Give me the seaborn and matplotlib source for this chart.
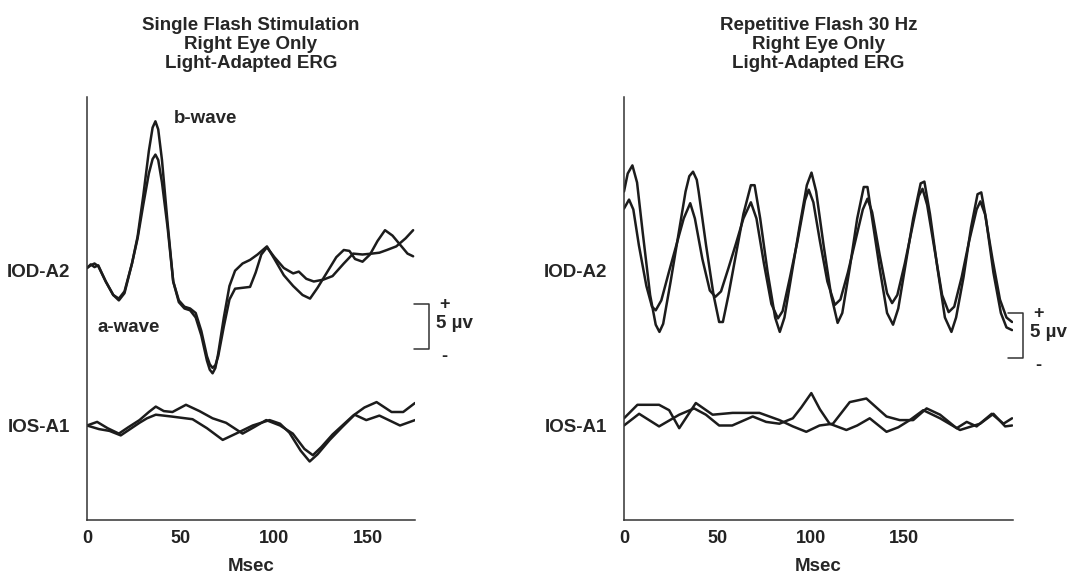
import pandas as pd
import matplotlib.pyplot as plt
import seaborn as sns

# =========================
# Settings
# =========================
sns.set_style("white")
plt.rcParams['font.family'] = ['Liberation Sans', 'DejaVu Sans']
plt.rcParams['font.weight'] = 'bold'

LINE_COLOR = "#1c1c1c"
IOD_OFFSET = 28.0   # baseline of the IOD-A2 channel (uV on the plot scale)
IOS_OFFSET = 10.5   # baseline of the IOS-A1 channel
SCALE_UV = 5

# =========================
# Data: single flash (left panel), values in uV relative to baseline
# =========================
single_t_a = [0, 2, 4, 6, 10, 14, 17, 20, 24, 27, 30, 33, 35, 36.5, 38, 40, 43, 46, 49, 52, 55,
              58, 61, 64, 65.5, 67, 68.5, 70, 73, 76, 79, 83, 87, 91, 96, 100, 105, 110, 115,
              119, 123, 128, 133, 137, 140, 143, 147, 151, 155, 159, 163, 167, 171, 174]
single_iod_a = [0.0, 0.4, 0.1, 0.3, -1.5, -3.0, -3.6, -2.8, 0.5, 3.5, 8.0, 13.0, 15.6, 16.3, 15.4,
                12.0, 5.0, -1.5, -3.8, -4.5, -4.7, -5.5, -7.5, -10.3, -11.3, -11.7, -11.1, -9.5,
                -5.5, -2.0, -0.3, 0.5, 0.9, 1.5, 2.4, 1.0, -0.8, -2.0, -3.0, -3.4, -2.2, -0.5,
                1.2, 2.0, 1.9, 1.0, 0.7, 1.5, 3.0, 4.2, 3.6, 2.6, 1.6, 1.3]

single_t_b = [0, 2, 4, 6, 10, 14, 17, 20, 24, 27, 30, 33, 35, 36.5, 38, 40, 43, 46, 49, 52, 55,
              58, 61, 64, 65.5, 67, 68.5, 70, 73, 76, 79, 83, 87, 90, 93, 96, 100, 105, 110, 113,
              117, 121, 126, 131, 137, 142, 147, 152, 156, 160, 165, 170, 174]
single_iod_b = [0.0, 0.3, 0.5, 0.2, -1.5, -3.0, -3.4, -2.6, 0.5, 3.3, 7.0, 10.5, 12.1, 12.6,
                12.0, 9.5, 4.5, -1.5, -3.6, -4.3, -4.5, -5.0, -7.0, -9.8, -10.7, -11.1, -10.8,
                -9.8, -6.5, -3.5, -2.3, -2.2, -2.1, -0.5, 1.5, 2.3, 1.2, 0.0, -0.6, -0.4, -1.2,
                -1.5, -1.3, -0.9, 0.5, 1.6, 1.5, 1.6, 1.7, 2.0, 2.4, 3.3, 4.2]

single_t_c = [0, 5.4, 11, 17, 22, 28, 33, 36.7, 41, 45.6, 52.8, 60, 67, 74.2, 83, 89, 95.6, 103,
              109.8, 116, 120.5, 125, 131, 142, 148, 154.5, 162.5, 168.7, 175]
single_ios_c = [0.0, 0.4, -0.3, -0.9, -0.2, 0.6, 1.5, 2.1, 1.6, 1.5, 2.3, 1.6, 0.8, 0.3, -0.9,
                -0.2, 0.6, 0.0, -0.9, -2.6, -3.3, -2.4, -1.0, 1.1, 2.0, 2.6, 1.5, 1.5, 2.5]

single_t_d = [0, 6.4, 12, 18, 23, 28, 32, 36.7, 45, 56.3, 64, 72.4, 79.5, 88.4, 97.4, 103, 108,
              114, 118.8, 123, 129.5, 136, 142.8, 149, 156, 161, 167, 175]
single_ios_d = [0.0, -0.4, -0.6, -1.1, -0.4, 0.3, 0.8, 1.2, 1.0, 0.7, -0.3, -1.6, -0.9, 0.0, 0.6,
                0.2, -0.8, -2.8, -4.0, -3.2, -1.6, -0.2, 1.2, 0.6, 1.1, 0.6, 0.0, 0.6]

# =========================
# Data: repetitive flash 30 Hz (right panel)
# =========================
rep_t_e = [0, 2, 4.5, 7, 10, 14, 17, 19, 21, 25, 29, 33, 35, 37, 39, 40, 44, 48, 51, 53, 56, 60,
           64, 68, 70, 73, 77, 81, 83.5, 86, 90, 94, 98, 100.5, 103, 107, 111, 114.5, 117, 121,
           125, 128.5, 130.5, 133, 137, 141, 144.2, 147, 151, 155, 159, 161, 164, 168, 172,
           175.5, 178, 182, 186, 189.5, 191.5, 194, 198, 202, 205, 208]
rep_iod_e = [8.5, 10.5, 11.4, 9.5, 4.0, -3.0, -6.3, -7.1, -6.2, -1.5, 3.5, 8.5, 10.2, 10.7, 9.8,
             8.5, 2.5, -3.0, -6.0, -6.0, -3.0, 1.5, 6.0, 9.2, 9.2, 5.5, -0.5, -5.5, -7.1, -5.5,
             -0.5, 4.5, 9.2, 10.6, 8.5, 2.5, -3.0, -6.1, -5.0, 0.0, 5.5, 9.0, 9.0, 5.5, 0.0,
             -5.0, -6.3, -4.5, 0.5, 5.5, 9.4, 9.6, 6.0, 0.0, -5.5, -7.1, -5.5, -1.0, 4.5, 8.2,
             8.4, 5.5, -0.5, -5.0, -6.6, -6.9]

rep_t_f = [0, 2.7, 5, 8, 12, 15, 17, 20, 24, 28, 32, 35.5, 38, 42, 46, 49, 52, 56, 60, 64, 68,
           71, 75, 79, 82.5, 85, 89, 93, 97, 99, 101.5, 105, 109, 113, 116, 120, 124, 128,
           130.5, 133, 137, 141, 143.7, 146.5, 150.5, 154.5, 158, 160, 162.5, 166.5, 170.5, 174,
           177, 181, 185, 189, 191, 193.5, 197.5, 201.5, 205, 208]
rep_iod_f = [6.6, 7.6, 6.5, 2.5, -2.0, -4.3, -4.7, -3.6, -0.5, 2.5, 5.5, 7.2, 5.5, 1.0, -2.5,
             -3.2, -2.6, 0.0, 2.7, 5.5, 7.3, 5.5, 0.5, -4.0, -5.6, -4.8, -1.0, 3.0, 7.5, 8.7,
             7.3, 3.0, -1.5, -4.1, -3.5, -0.5, 3.0, 6.5, 7.7, 6.2, 1.5, -2.8, -3.9, -3.0, 0.5,
             4.5, 8.0, 8.8, 7.0, 2.0, -3.0, -4.9, -4.3, -1.0, 3.0, 6.5, 7.4, 6.0, 1.0, -3.5,
             -5.5, -6.0]

rep_t_g = [0, 8.1, 18.8, 29.6, 37.6, 43.9, 51, 58, 69, 76.2, 83.3, 90.5, 95, 100.4, 105, 110.2,
           119.2, 125, 131.7, 140.7, 147, 153.2, 160.4, 169.4, 180.1, 190.9, 198, 204.3, 208]
rep_ios_g = [0.0, 1.3, -0.1, 1.2, 1.9, 1.2, 0.0, 0.0, 1.0, 0.4, 0.2, 0.8, 2.0, 3.6, 1.8, 0.2,
             -0.5, 0.0, 0.8, -0.7, -0.2, 0.6, 1.7, 0.8, -0.5, 0.2, 1.3, -0.1, 0.0]

rep_t_h = [0, 7.2, 18.8, 24.2, 29.6, 38.5, 47.5, 58.2, 72.6, 83.3, 90.5, 97.7, 104.8, 112, 121,
           129.9, 140.7, 147.8, 155, 162.2, 169.4, 178.3, 183.7, 189, 197.1, 203.4, 208]
rep_ios_h = [0.8, 2.3, 2.3, 1.7, -0.3, 2.5, 1.2, 1.4, 1.4, 0.6, -0.1, -0.7, 0.0, 0.2, 2.6, 3.0,
             1.0, 0.6, 0.6, 1.9, 1.2, -0.3, 0.4, -0.1, 1.3, 0.2, 0.8]

# =========================
# Figure
# =========================
W, H = 1068, 574
fig = plt.figure(figsize=(W / 100, H / 100), dpi=100)
ax1 = fig.add_axes([87 / W, 1 - 520 / H, (415 - 87) / W, (520 - 97) / H])
ax2 = fig.add_axes([624 / W, 1 - 520 / H, (1013 - 624) / W, (520 - 97) / H])


def draw_trace(ax, t, v, offset):
    df = pd.DataFrame({'t': t, 'v': [x + offset for x in v]})
    sns.lineplot(data=df, x='t', y='v', ax=ax, color=LINE_COLOR, lw=1.8,
                 sort=False, estimator=None)


draw_trace(ax1, single_t_a, single_iod_a, IOD_OFFSET)
draw_trace(ax1, single_t_b, single_iod_b, IOD_OFFSET)
draw_trace(ax1, single_t_c, single_ios_c, IOS_OFFSET)
draw_trace(ax1, single_t_d, single_ios_d, IOS_OFFSET)

draw_trace(ax2, rep_t_e, rep_iod_e, IOD_OFFSET)
draw_trace(ax2, rep_t_f, rep_iod_f, IOD_OFFSET)
draw_trace(ax2, rep_t_g, rep_ios_g, IOS_OFFSET)
draw_trace(ax2, rep_t_h, rep_ios_h, IOS_OFFSET)

titles = ["Single Flash Stimulation\nRight Eye Only\nLight-Adapted ERG",
          "Repetitive Flash 30 Hz\nRight Eye Only\nLight-Adapted ERG"]
xmax = [175, 208.5]
tick_lists = [list(range(0, 176, 25)), list(range(0, 201, 25))]
bar_x = [182.5, 214]
bar_y0 = [19.0, 18.0]

for ax, title, xm, ticks, bx, by in zip([ax1, ax2], titles, xmax, tick_lists, bar_x, bar_y0):
    ax.set_xlim(0, xm)
    ax.set_ylim(0, 47)
    sns.despine(ax=ax)
    for side in ['left', 'bottom']:
        ax.spines[side].set_color('#333333')
        ax.spines[side].set_linewidth(1.1)
    ax.set_yticks([])
    ax.set_ylabel('')
    ax.set_xticks(ticks)
    ax.set_xticklabels([str(t) if t % 50 == 0 and t < 200 else '' for t in ticks])
    ax.tick_params(axis='x', direction='in', length=9, width=1, pad=7,
                   labelsize=13, colors='#222222')
    ax.set_xlabel('Msec', fontsize=13.5, fontweight='bold', labelpad=8)
    ax.set_title(title, fontsize=13.5, fontweight='bold', linespacing=1.13, pad=21)

    # channel labels
    ax.annotate('IOD-A2', xy=(0, IOD_OFFSET - 0.5), xytext=(-12, 0), textcoords='offset points',
                ha='right', va='center', fontsize=13.5, fontweight='bold', annotation_clip=False)
    ax.annotate('IOS-A1', xy=(0, IOS_OFFSET - 0.2), xytext=(-12, 0), textcoords='offset points',
                ha='right', va='center', fontsize=13.5, fontweight='bold', annotation_clip=False)

    # 5 uV calibration bracket
    ax.plot([bx - 8, bx, bx, bx - 8], [by + SCALE_UV, by + SCALE_UV, by, by],
            color='#333333', lw=1.1, clip_on=False)
    ax.text(bx + 8, by + SCALE_UV - 0.1, '+', fontsize=13, fontweight='bold', ha='center', va='center')
    ax.text(bx + 3.5, by + SCALE_UV / 2 + 0.3, '5 µv', fontsize=13.5, fontweight='bold', ha='left', va='center')
    ax.text(bx + 8, by - 0.8, '-', fontsize=13, fontweight='bold', ha='center', va='center')

ax1.text(63, 44.6, 'b-wave', fontsize=13.5, fontweight='bold', ha='center', va='center')
ax1.text(22, 21.4, 'a-wave', fontsize=13.5, fontweight='bold', ha='center', va='center')

fig.savefig('out.png', dpi=100, facecolor='white')
